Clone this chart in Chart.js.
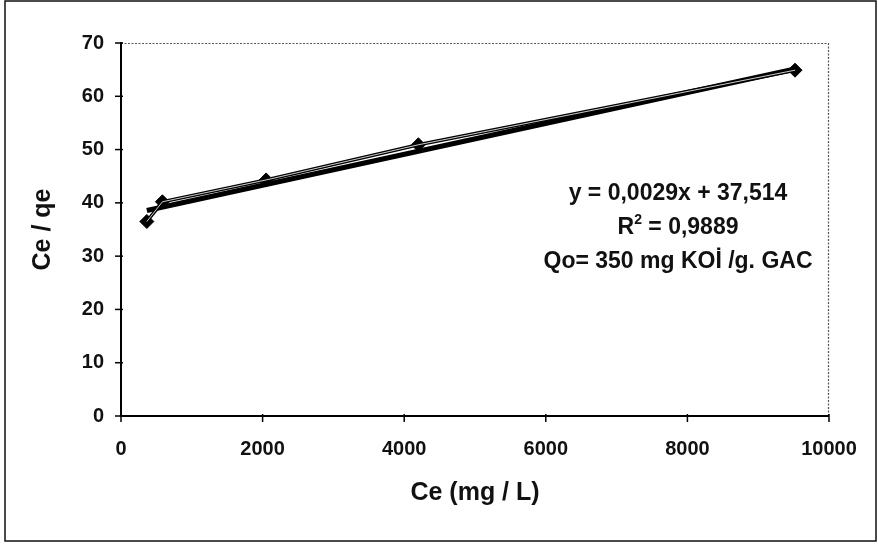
<!DOCTYPE html>
<html>
<head>
<meta charset="utf-8">
<script src="https://cdn.jsdelivr.net/npm/chart.js@4/dist/chart.umd.min.js"></script>
<style>
html,body{margin:0;padding:0;background:#fff;}
#wrap{width:878px;height:547px;position:relative;}
</style>
</head>
<body>
<div id="wrap"><canvas id="c" width="878" height="547"></canvas></div>
<script>
// Data
const ceValues = [365, 585, 2050, 4200, 9520];
const ceQeValues = [36.5, 40.2, 44.3, 50.9, 64.9];
const xTicks = [0, 2000, 4000, 6000, 8000, 10000];
const yTicks = [0, 10, 20, 30, 40, 50, 60, 70];
const trendSlope = 0.0029;
const trendIntercept = 37.514;
const eqText = "y = 0,0029x + 37,514";
const r2Value = "0,9889";
const qoText = "Qo= 350 mg KOİ /g. GAC";
const xTitle = "Ce (mg / L)";
const yTitle = "Ce / qe";

const FONT = "'Liberation Sans', Arial, sans-serif";

const dataPts = ceValues.map((x, i) => ({x: x, y: ceQeValues[i]}));
const xFirst = ceValues[0], xLast = ceValues[ceValues.length - 1];
const trendPts = [
  {x: xFirst, y: trendSlope * xFirst + trendIntercept},
  {x: xLast, y: trendSlope * xLast + trendIntercept}
];

const framePlugin = {
  id: 'frame',
  beforeDraw(chart) {
    const ctx = chart.ctx;
    ctx.save();
    ctx.fillStyle = '#fff';
    ctx.fillRect(0, 0, chart.width, chart.height);
    ctx.strokeStyle = '#111';
    ctx.lineWidth = 1.5;
    ctx.strokeRect(5, 1, 871, 540);
    ctx.restore();
  },
  afterDatasetsDraw(chart) {
    const ctx = chart.ctx;
    const a = chart.chartArea;
    const xs = chart.scales.x, ys = chart.scales.y;
    ctx.save();
    // dotted top & right border of plot area
    ctx.strokeStyle = '#555';
    ctx.lineWidth = 1.2;
    ctx.setLineDash([2, 1.5]);
    ctx.beginPath();
    ctx.moveTo(a.left, a.top + 0.5);
    ctx.lineTo(a.right - 0.5, a.top + 0.5);
    ctx.lineTo(a.right - 0.5, a.bottom);
    ctx.stroke();
    ctx.setLineDash([]);
    // solid left & bottom axes
    ctx.strokeStyle = '#000';
    ctx.lineWidth = 2;
    ctx.beginPath();
    ctx.moveTo(a.left, a.top - 1);
    ctx.lineTo(a.left, a.bottom);
    ctx.lineTo(a.right, a.bottom);
    ctx.stroke();
    // tick marks
    ctx.lineWidth = 1.5;
    yTicks.forEach(v => {
      const py = ys.getPixelForValue(v);
      ctx.beginPath();
      ctx.moveTo(a.left - 6, py);
      ctx.lineTo(a.left + 2, py);
      ctx.stroke();
    });
    xTicks.forEach(v => {
      const px = xs.getPixelForValue(v);
      ctx.beginPath();
      ctx.moveTo(px, a.bottom - 2);
      ctx.lineTo(px, a.bottom + 6);
      ctx.stroke();
    });
    // axis titles
    ctx.fillStyle = '#111';
    ctx.textAlign = 'center';
    ctx.textBaseline = 'middle';
    ctx.font = 'bold 25px ' + FONT;
    ctx.fillText(xTitle, (a.left + a.right) / 2, 493);
    ctx.save();
    ctx.translate(43, (a.top + a.bottom) / 2);
    ctx.rotate(-Math.PI / 2);
    ctx.fillText(yTitle, 0, 0);
    ctx.restore();
    // annotation
    const cx = 678;
    const big = 'bold 23px ' + FONT, small = 'bold 14px ' + FONT;
    ctx.font = big;
    ctx.fillText(eqText, cx, 194);
    const rest = ' = ' + r2Value;
    ctx.font = big;
    const wR = ctx.measureText('R').width;
    const wRest = ctx.measureText(rest).width;
    ctx.font = small;
    const w2 = ctx.measureText('2').width;
    const sx = cx - (wR + w2 + wRest) / 2;
    ctx.textAlign = 'left';
    ctx.font = big;
    ctx.fillText('R', sx, 228);
    ctx.font = small;
    ctx.fillText('2', sx + wR, 220);
    ctx.font = big;
    ctx.fillText(rest, sx + wR + w2, 228);
    ctx.textAlign = 'center';
    ctx.fillText(qoText, cx, 262);
    ctx.restore();
  }
};

new Chart(document.getElementById('c'), {
  type: 'scatter',
  data: {
    datasets: [
      {
        label: 'Trendline',
        data: trendPts,
        showLine: true,
        borderColor: '#000',
        borderWidth: 5,
        pointRadius: 0,
        order: 3
      },
      {
        label: 'Ce/qe',
        data: dataPts,
        showLine: true,
        borderColor: '#000',
        borderWidth: 3.5,
        backgroundColor: '#000',
        pointStyle: 'rectRot',
        pointRadius: 7,
        pointBorderWidth: 1,
        order: 2
      },
      {
        label: 'inner',
        data: dataPts,
        showLine: true,
        borderColor: 'rgba(255,255,255,0.8)',
        borderWidth: 1,
        pointRadius: 0,
        order: 1
      }
    ]
  },
  options: {
    responsive: false,
    animation: false,
    layout: {padding: {left: 0, right: 49, top: 43, bottom: 0}},
    plugins: {
      legend: {display: false},
      tooltip: {enabled: false}
    },
    scales: {
      x: {
        type: 'linear',
        min: 0, max: 10000,
        afterBuildTicks(s) { s.ticks = xTicks.map(v => ({value: v})); },
        grid: {display: false, drawTicks: false},
        border: {display: false},
        ticks: {
          color: '#111',
          font: {family: FONT, size: 20, weight: 'bold'},
          padding: 21,
          maxRotation: 0,
          callback: v => String(v)
        },
        afterFit(s) { s.height = 131; }
      },
      y: {
        type: 'linear',
        min: 0, max: 70,
        afterBuildTicks(s) { s.ticks = yTicks.map(v => ({value: v})); },
        grid: {display: false, drawTicks: false},
        border: {display: false},
        ticks: {
          color: '#111',
          font: {family: FONT, size: 20, weight: 'bold'},
          padding: 17,
          callback: v => String(v)
        },
        afterFit(s) { s.width = 121; }
      }
    }
  },
  plugins: [framePlugin]
});
</script>
</body>
</html>
